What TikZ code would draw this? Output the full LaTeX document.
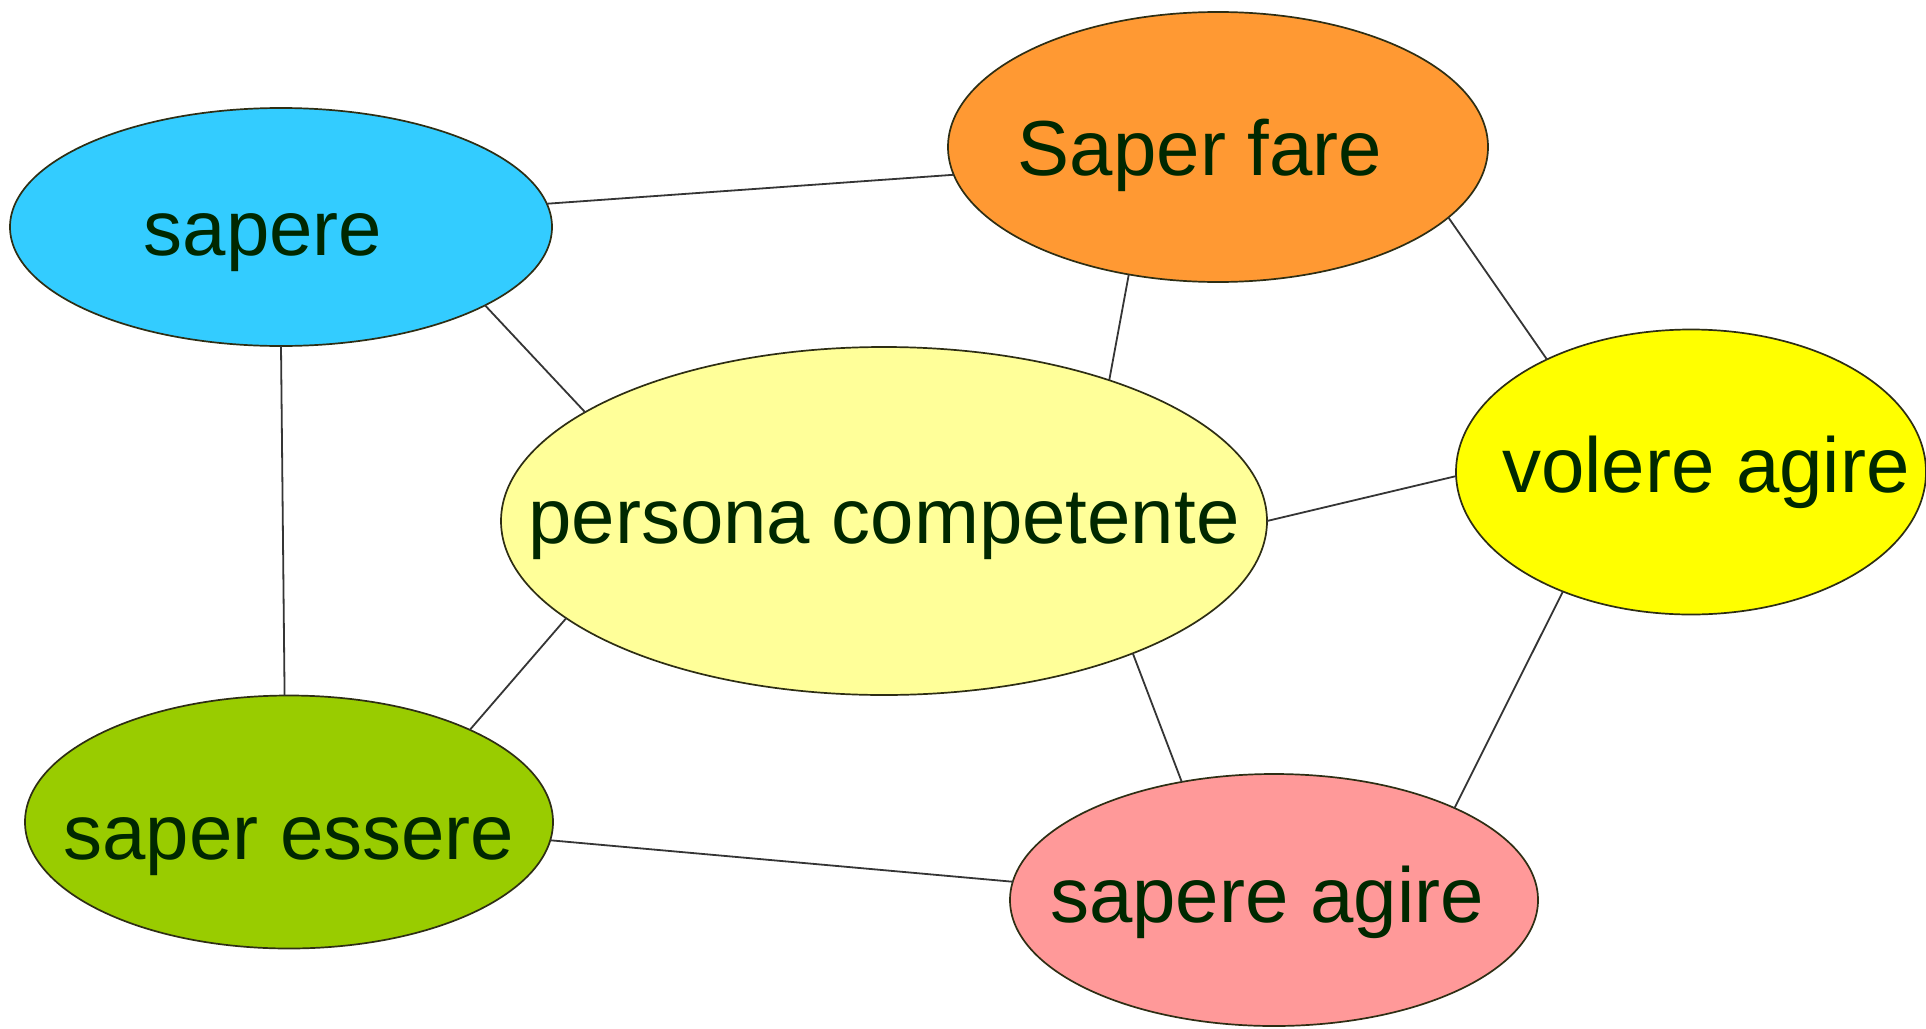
\documentclass[tikz,border=0pt]{standalone}
\usepackage{fontspec}
\setmainfont{Liberation Sans}
\usetikzlibrary{shapes.geometric}
\definecolor{cSapere}{HTML}{33CCFF}
\definecolor{cFare}{HTML}{FF9933}
\definecolor{cPersona}{HTML}{FFFF99}
\definecolor{cVolere}{HTML}{FFFF00}
\definecolor{cEssere}{HTML}{99CC00}
\definecolor{cAgire}{HTML}{FF9999}
\definecolor{txtgreen}{HTML}{002800}
\definecolor{edgeDark}{HTML}{2E2E14}
\definecolor{lineGray}{HTML}{353535}
\newcommand\lbltxt[3]{\makebox[0pt]{\hspace*{#1}\raisebox{#2}{#3}}}
\begin{document}
\begin{tikzpicture}[x=0.5pt,y=-0.5pt,
  bubble/.style={ellipse, draw=edgeDark, line width=0.85pt, inner sep=0pt, outer sep=0pt,
    text=txtgreen, font=\fontsize{39}{46}\selectfont, text height=28pt, text depth=8.2pt},
  conn/.style={draw=lineGray, line width=0.9pt}]
\fill[white] (0,0) rectangle (1926,1028);
\useasboundingbox (0,0) rectangle (1926,1028);

\node[bubble, fill=cSapere, minimum width=271pt, minimum height=119pt] (sapere) at (281,227) {\lbltxt{-18pt}{-4.2pt}{sapere}};
\node[bubble, fill=cFare, minimum width=270pt, minimum height=135pt] (fare) at (1218,147) {\lbltxt{-18pt}{-4.2pt}{Saper fare}};
\node[bubble, fill=cPersona, minimum width=383pt, minimum height=174pt] (persona) at (884,521) {\lbltxt{0pt}{-1.2pt}{persona competente}};
\node[bubble, fill=cVolere, minimum width=235pt, minimum height=142.5pt] (volere) at (1691,472) {\lbltxt{15pt}{-0.2pt}{volere agire}};
\node[bubble, fill=cEssere, minimum width=264pt, minimum height=126.5pt] (essere) at (289,822) {\lbltxt{0pt}{-9pt}{saper essere}};
\node[bubble, fill=cAgire, minimum width=264pt, minimum height=126pt] (agire) at (1274,900) {\lbltxt{-7pt}{-1.2pt}{sapere agire}};

\draw[conn] (sapere.5.2) -- (fare.-174.8);
\draw[conn] (sapere.-21) -- (persona.160.5);
\draw[conn] (sapere.-90) -- (essere.92.8);
\draw[conn] (fare.-125.7) -- (persona.32.9);
\draw[conn] (fare.-17.1) -- (volere.142.1);
\draw[conn] (persona.0.4) -- (volere.181);
\draw[conn] (persona.-163.1) -- (essere.27.2);
\draw[conn] (persona.-28.2) -- (agire.128.5);
\draw[conn] (volere.-137.2) -- (agire.27);
\draw[conn] (essere.-4) -- (agire.176.6);
\end{tikzpicture}
\end{document}
